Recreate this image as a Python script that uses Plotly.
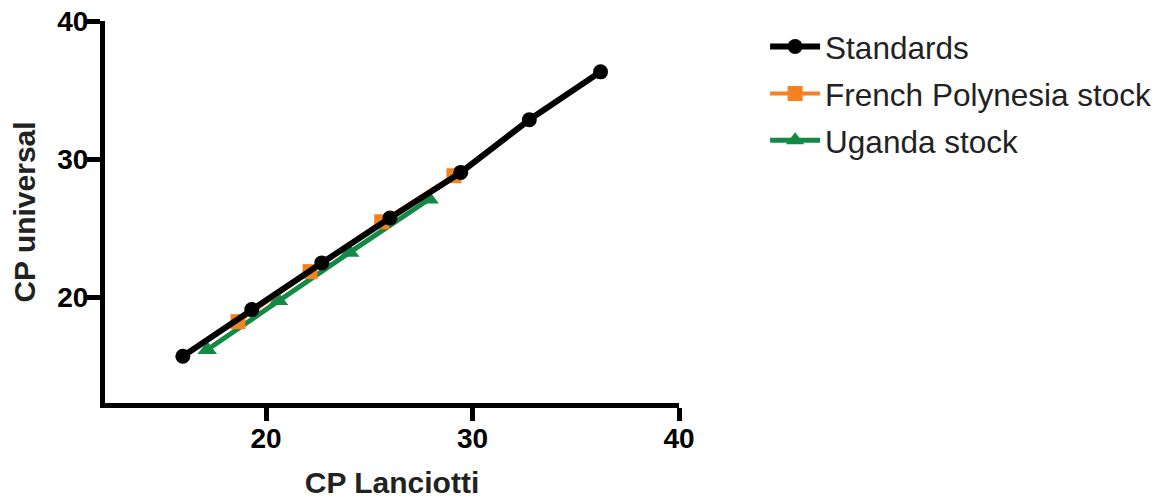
import plotly.graph_objects as go

std_x = [15.97, 19.31, 22.70, 26.00, 29.43, 32.75, 36.20]
std_y = [15.73, 19.11, 22.49, 25.74, 29.04, 32.85, 36.32]

fp_x = [18.64, 22.13, 25.60, 29.10]
fp_y = [18.24, 21.86, 25.47, 28.80]

ug_x = [17.15, 20.60, 24.05, 27.90]
ug_y = [16.20, 19.75, 23.25, 27.10]

names = ["Standards", "French Polynesia stock", "Uganda stock"]
tick_vals = [20, 30, 40]

fig = go.Figure()
fig.add_trace(go.Scatter(x=ug_x, y=ug_y, name=names[2], mode="lines+markers",
                         line=dict(color="#128A45", width=5),
                         marker=dict(symbol="triangle-up", size=17, color="#128A45"),
                         legendrank=3, legendgroup="ug"))
fig.add_trace(go.Scatter(x=fp_x, y=fp_y, name=names[1], mode="lines+markers",
                         line=dict(color="#F58220", width=4),
                         marker=dict(symbol="square", size=15, color="#F58220"),
                         legendrank=2, legendgroup="fp"))
fig.add_trace(go.Scatter(x=std_x, y=std_y, name=names[0], mode="lines+markers",
                         line=dict(color="black", width=6),
                         marker=dict(symbol="circle", size=15, color="black"),
                         legendrank=1, legendgroup="std"))

axis_common = dict(showgrid=False, zeroline=False, showline=True, linecolor="black",
                   linewidth=5, ticks="outside", ticklen=13, tickwidth=5,
                   tickcolor="black", tickvals=tick_vals, automargin=False,
                   ticklabelstandoff=-7,
                   tickfont=dict(family="Liberation Sans, Arial", size=28, color="black", weight="bold"),
                   title_font=dict(family="Liberation Sans, Arial", size=30, color="#222", weight="bold"))

fig.update_layout(
    width=1162, height=500,
    margin=dict(l=105, r=483, t=21, b=96.5, autoexpand=False),
    plot_bgcolor="white", paper_bgcolor="white",
    xaxis=dict(range=[12.2, 40], title=dict(text="CP Lanciotti", standoff=21), **axis_common),
    yaxis=dict(range=[12.35, 40], title=dict(text="CP universal", standoff=14), **axis_common),
    legend=dict(x=1.15, y=1.004, xanchor="left", yanchor="top",
                font=dict(family="Liberation Sans, Arial", size=31.5, color="#222"),
                itemwidth=50, tracegroupgap=3, bgcolor="rgba(0,0,0,0)"),
)

fig.write_html("out.html", config={"displayModeBar": False},
               post_script="document.body.style.margin='0';")
